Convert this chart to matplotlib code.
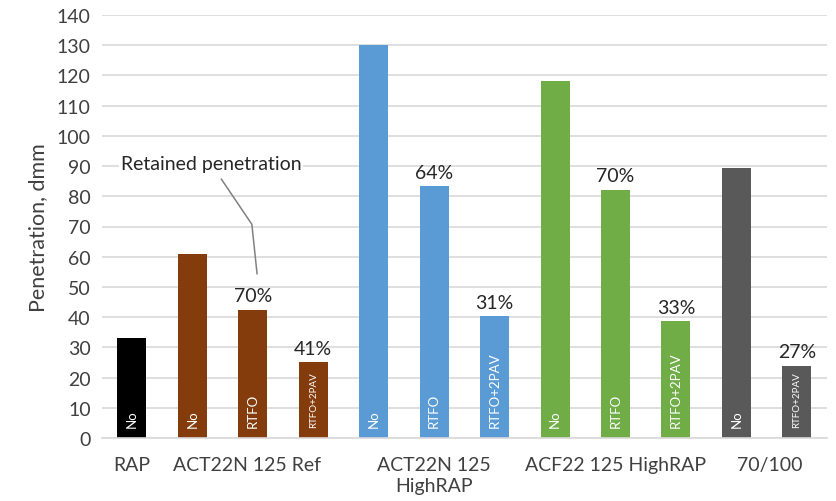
import matplotlib
matplotlib.use("Agg")
import matplotlib.pyplot as plt

# penetration (dmm) per binder and ageing condition
groups = ["RAP", "ACT22N 125 Ref", "ACT22N 125\nHighRAP", "ACF22 125 HighRAP", "70/100"]
bar_group = [0, 1, 1, 1, 2, 2, 2, 3, 3, 3, 4, 4]
bar_condition = ["No", "No", "RTFO", "RTFO+2PAV", "No", "RTFO", "RTFO+2PAV",
                 "No", "RTFO", "RTFO+2PAV", "No", "RTFO+2PAV"]
penetration = [33, 61, 42.5, 25, 130, 83.3, 40.3, 118, 82.2, 38.6, 89.3, 23.9]
group_colors = ["#000000", "#843C0C", "#5B9BD5", "#70AD47", "#595959"]
group_label_x = [0, 1.9, 5, 8, 10.55]

TEXT = "#404040"
plt.rcParams["font.family"] = ["Lato", "DejaVu Sans"]

fig = plt.figure(figsize=(8.36, 5.02), dpi=100)
ax = fig.add_axes([101.75 / 836, 63 / 502, (827 - 101.75) / 836, (439 - 16) / 502])

x = list(range(len(penetration)))
colors = [group_colors[g] for g in bar_group]
ax.bar(x, penetration, width=0.48, color=colors, zorder=2)

# condition names written up the inside of each bar
for xi, cond, g in zip(x, bar_condition, bar_group):
    small = cond == "RTFO+2PAV" and g in (1, 4)
    ax.text(xi, 3.7, cond, rotation=90, ha="center", va="bottom", color="white",
            fontsize=7 if small else 9.5, zorder=3)

# retained penetration relative to the unaged binder of the same group
unaged = {g: v for g, v, c in zip(bar_group, penetration, bar_condition) if c == "No"}
for xi, v, g, c in zip(x, penetration, bar_group, bar_condition):
    if c == "No":
        continue
    pct = round(100 * v / unaged[g])
    ax.annotate(f"{pct}%", (xi, v), xytext=(0, 4), textcoords="offset points",
                ha="center", va="bottom", fontsize=14, color="#262626", zorder=3)

ax.annotate("Retained penetration", xy=(2.07, 54.3), xytext=(1.31, 90.7),
            ha="center", va="center", fontsize=14, color="#262626",
            bbox=dict(boxstyle="square,pad=0.1", fc="white", ec="none"),
            arrowprops=dict(arrowstyle="-", color="#808080", lw=1.1,
                            connectionstyle="angle,angleA=-56,angleB=96,rad=0",
                            shrinkA=4, shrinkB=0),
            zorder=4)

ax.set_xlim(-0.5, len(penetration) - 0.5)
ax.set_ylim(0, 140)
ax.set_yticks(range(0, 141, 10))
ax.yaxis.grid(True, color="#D9D9D9", lw=1.2, zorder=0)
ax.set_axisbelow(True)
for side in ("top", "right", "left"):
    ax.spines[side].set_visible(False)
ax.spines["bottom"].set_color("#D9D9D9")
ax.spines["bottom"].set_linewidth(1.2)

ax.set_xticks(group_label_x)
ax.set_xticklabels(groups, linespacing=1.25)
ax.tick_params(axis="x", length=0, pad=13, labelsize=14, labelcolor=TEXT)
ax.tick_params(axis="y", length=0, pad=8, labelsize=14, labelcolor=TEXT)
ax.set_ylabel("Penetration, dmm", fontsize=15.5, color=TEXT, labelpad=6)

fig.savefig("out.png", dpi=100)
